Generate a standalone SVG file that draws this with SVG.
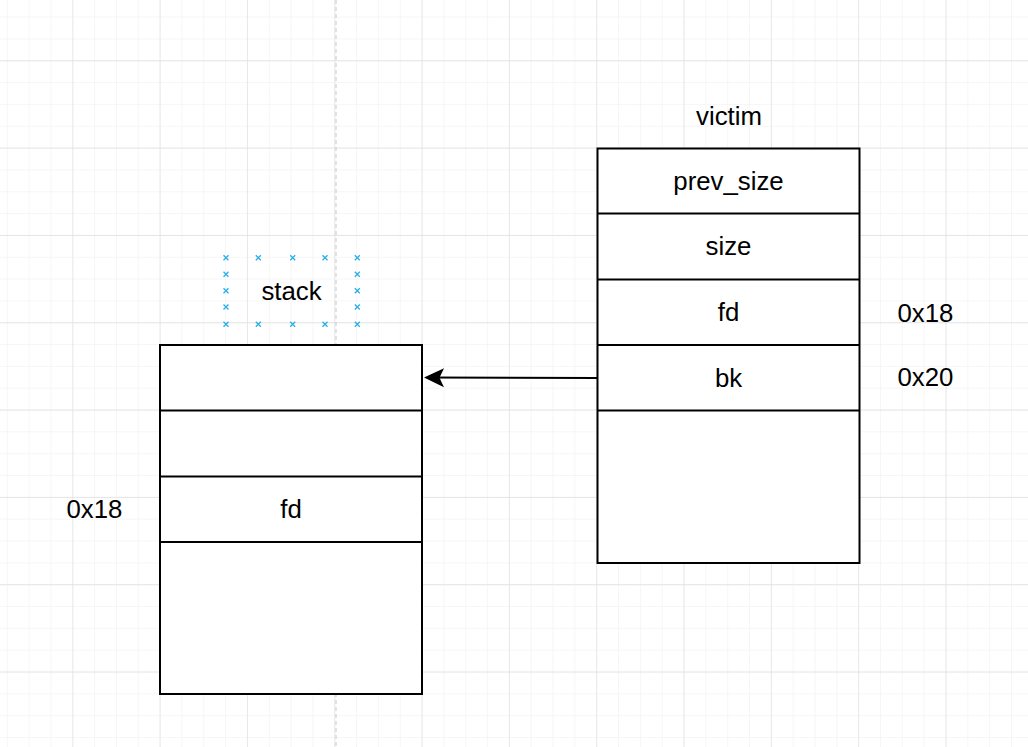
<svg xmlns="http://www.w3.org/2000/svg" width="1028" height="747" viewBox="0 0 1028 747">
<style>
.t{font-family:"Liberation Sans",Arial,sans-serif;font-size:25.8px;fill:#000;text-anchor:middle}
.box{fill:#fff;stroke:#000;stroke-width:2}
.ln{stroke:#000;stroke-width:2;fill:none}
.xm{stroke:#29aee8;stroke-width:1.3}
</style>
<defs>
<pattern id="minor" patternUnits="userSpaceOnUse" x="6.8" y="16.6" width="21.83" height="21.83">
<path d="M0 0V21.83M0 0H21.83" stroke="#f3f3f3" stroke-width="1.5" fill="none"/>
</pattern>
<pattern id="major" patternUnits="userSpaceOnUse" x="72.3" y="60.3" width="87.32" height="87.32">
<path d="M0 0V87.32M0 0H87.32" stroke="#e0e0e0" stroke-width="1.3" fill="none"/>
</pattern>
<marker id="arr" markerUnits="userSpaceOnUse" markerWidth="24" markerHeight="22" refX="21" refY="11" orient="auto">
<path d="M21 11 L1 1.5 L5.5 11 L1 20.5 Z" fill="#000"/>
</marker>
<g id="xmark"><path class="xm" d="M-2.5 -2.5L2.5 2.5M-2.5 2.5L2.5 -2.5"/></g>
</defs>
<rect width="1028" height="747" fill="#fff"/>
<rect width="1028" height="747" fill="url(#minor)"/>
<rect width="1028" height="747" fill="url(#major)"/>
<line x1="336" y1="0" x2="336" y2="747" stroke="#c8c8c8" stroke-width="1" stroke-dasharray="4 3"/>

<g id="stack-label">
<use href="#xmark" x="226" y="257.7"/><use href="#xmark" x="258.3" y="257.7"/><use href="#xmark" x="292.7" y="257.7"/><use href="#xmark" x="325" y="257.7"/><use href="#xmark" x="357.3" y="257.7"/>
<use href="#xmark" x="226" y="274.3"/><use href="#xmark" x="357.3" y="274.3"/>
<use href="#xmark" x="226" y="290.7"/><use href="#xmark" x="357.3" y="290.7"/>
<use href="#xmark" x="226" y="307"/><use href="#xmark" x="357.3" y="307"/>
<use href="#xmark" x="226" y="324.3"/><use href="#xmark" x="258.3" y="324.3"/><use href="#xmark" x="292.7" y="324.3"/><use href="#xmark" x="325" y="324.3"/><use href="#xmark" x="357.3" y="324.3"/>
<text class="t" x="291.5" y="300">stack</text>
</g>

<g id="stack-chunk">
<rect class="box" x="160" y="345" width="262" height="349"/>
<line class="ln" x1="160" y1="410.5" x2="422" y2="410.5"/>
<line class="ln" x1="160" y1="476.5" x2="422" y2="476.5"/>
<line class="ln" x1="160" y1="542" x2="422" y2="542"/>
<text class="t" x="291" y="518">fd</text>
</g>
<g id="stack-offset"><text class="t" x="94.5" y="518">0x18</text></g>

<g id="victim-label"><text class="t" x="729" y="125">victim</text></g>
<g id="victim-chunk">
<rect class="box" x="597.5" y="148.5" width="262" height="414.5"/>
<line class="ln" x1="597.5" y1="213.5" x2="859.5" y2="213.5"/>
<line class="ln" x1="597.5" y1="279.5" x2="859.5" y2="279.5"/>
<line class="ln" x1="597.5" y1="345" x2="859.5" y2="345"/>
<line class="ln" x1="597.5" y1="410.5" x2="859.5" y2="410.5"/>
<text class="t" x="728.5" y="190">prev_size</text>
<text class="t" x="728.5" y="255">size</text>
<text class="t" x="728.5" y="321">fd</text>
<text class="t" x="728.5" y="387">bk</text>
</g>
<g id="victim-offsets">
<text class="t" x="925.5" y="322">0x18</text>
<text class="t" x="925.5" y="386">0x20</text>
</g>

<g id="connectors">
<path class="ln" d="M597 378 L430 377.6" />
<path d="M597 378 L424 377.6" fill="none" stroke="none" marker-end="url(#arr)"/>
</g>
</svg>
